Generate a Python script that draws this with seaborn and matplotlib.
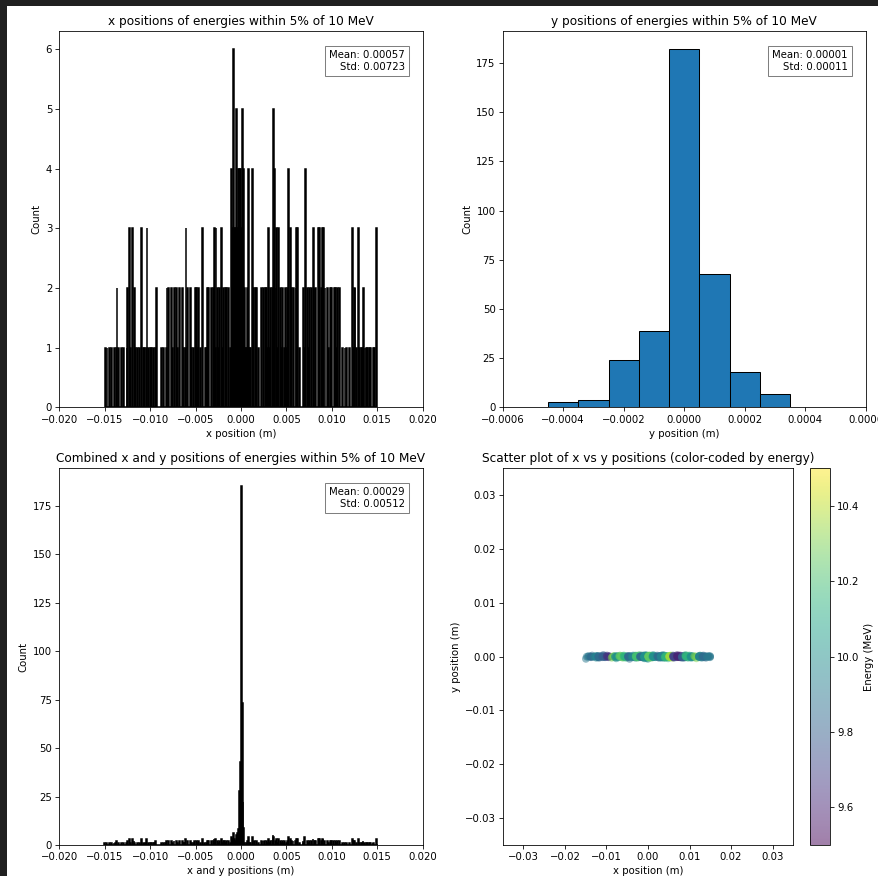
import numpy as np
import matplotlib
matplotlib.use('Agg')
import matplotlib.pyplot as plt
from matplotlib.patches import Rectangle
from matplotlib.colors import ListedColormap, Normalize
from matplotlib.cm import ScalarMappable
import seaborn as sns

# x positions: counts in 300 bins of 0.1 mm, from -0.015 m to +0.015 m
x_counts = [
    1,0,1,0,0,1,0,1,0,0,1,0,1,2,0,1,0,0,1,0,
    1,0,0,0,1,2,0,3,1,0,3,0,2,1,0,0,1,0,1,0,
    3,0,1,1,0,1,3,0,1,0,1,1,0,1,0,1,2,0,0,0,
    0,0,1,0,1,0,0,1,2,0,2,0,0,2,1,0,2,0,0,2,
    1,0,2,0,0,2,1,0,1,3,0,2,0,0,2,1,0,1,0,2,
    0,2,1,2,0,1,0,3,0,0,1,0,1,2,2,0,0,2,0,2,
    3,1,3,0,2,1,2,0,3,1,2,0,2,1,2,0,2,0,1,4,
    3,6,3,3,2,5,3,4,4,4,3,5,4,2,1,0,1,2,4,1,
    1,0,4,2,0,2,0,2,0,1,0,0,2,0,2,0,2,0,2,1,
    3,1,2,0,2,5,4,0,2,3,1,3,0,2,1,2,0,1,2,0,
    1,2,4,0,3,2,0,2,0,0,2,3,3,0,1,0,0,0,2,1,
    4,0,0,2,1,2,0,2,0,3,0,2,2,0,0,3,3,0,2,3,
    3,0,2,0,0,2,1,0,2,2,0,0,2,0,2,1,2,0,2,0,
    0,1,0,0,1,0,1,0,0,1,0,0,3,1,2,2,0,1,0,3,
    1,0,1,1,2,0,1,0,1,1,0,1,1,0,0,1,1,0,0,3,
]
x_lo, x_hi = -0.015, 0.015

# y positions: 0.1 mm bins
y_centers = [-0.0004, -0.0003, -0.0002, -0.0001, 0.0, 0.0001, 0.0002, 0.0003]
y_counts = [3, 4, 24, 39, 182, 68, 18, 7]

# energy (MeV) read along the scatter strip, one value per 1 mm of x
seg_energy = [9.90, 9.85, 9.95, 9.85, 9.80, 9.65, 10.30, 10.00, 10.25, 10.15,
              9.85, 9.95, 10.20, 9.85, 10.00, 10.25, 10.00, 9.85, 9.95, 10.15,
              10.35, 9.70, 9.60, 9.80, 10.15, 10.00, 10.30, 9.95, 9.85, 9.90]

stats_x = "Mean: 0.00057\nStd: 0.00723"
stats_y = "Mean: 0.00001\nStd: 0.00011"
stats_xy = "Mean: 0.00029\nStd: 0.00512"

nbins = len(x_counts)
bw = (x_hi - x_lo) / nbins
x_centers = x_lo + bw * (np.arange(nbins) + 0.5)
x_pts = np.repeat(x_centers, x_counts)
y_pts = np.repeat(y_centers, y_counts)
e_pts = np.repeat(np.repeat(seg_energy, nbins // len(seg_energy)), x_counts)

W, H, DPI = 878, 876, 73
fig = plt.figure(figsize=(W / DPI, H / DPI), dpi=DPI, facecolor='#202020')
fig.add_artist(Rectangle((7 / W, 0), 1 - 7 / W, 1 - 6 / H, transform=fig.transFigure,
                         facecolor='white', edgecolor='none', zorder=-5))

def box(l, t, r, b):
    return [l / W, 1 - b / H, (r - l) / W, (b - t) / H]

ax1 = fig.add_axes(box(59.3, 31.3, 422.7, 407.5))
ax2 = fig.add_axes(box(502.7, 31.3, 865.7, 407.5))
ax3 = fig.add_axes(box(59.3, 468.3, 422.7, 845))
ax4 = fig.add_axes(box(502.7, 468.3, 793.3, 845))
cax = fig.add_axes(box(810, 468.3, 830, 845))

def stat_box(ax, s):
    ax.text(0.95, 0.95, s, transform=ax.transAxes, ha='right', va='top',
            multialignment='right', fontsize=10,
            bbox=dict(facecolor='white', alpha=0.5))

# x hist
sns.histplot(x=x_centers, weights=x_counts, bins=nbins, binrange=(x_lo, x_hi),
             color='black', edgecolor='black', alpha=1, linewidth=1.5, ax=ax1)
ax1.set_xlim(-0.02, 0.02)
ax1.set_title('x positions of energies within 5% of 10 MeV')
ax1.set_xlabel('x position (m)')
ax1.set_ylabel('Count')
stat_box(ax1, stats_x)

# y hist
sns.histplot(x=y_centers, weights=y_counts, bins=len(y_counts),
             binrange=(-0.00045, 0.00035), color='#1f77b4', edgecolor='black',
             alpha=1, linewidth=1, ax=ax2)
ax2.set_xlim(-0.0006, 0.0006)
ax2.set_title('y positions of energies within 5% of 10 MeV')
ax2.set_xlabel('y position (m)')
ax2.set_ylabel('Count')
stat_box(ax2, stats_y)

# combined
both = np.concatenate([x_pts, y_pts])
sns.histplot(x=both, bins=nbins + 1, binrange=(x_lo - bw / 4, x_hi + 3 * bw / 4),
             color='black', edgecolor='black', alpha=1, linewidth=1.5, ax=ax3)
ax3.set_xlim(-0.02, 0.02)
ax3.set_title('Combined x and y positions of energies within 5% of 10 MeV')
ax3.set_xlabel('x and y positions (m)')
ax3.set_ylabel('Count')
stat_box(ax3, stats_xy)

# scatter: pair each x with a y taken in a spread-out order so y isn't sorted along x
n = min(len(x_pts), len(y_pts))
order = (np.arange(n) * 214) % n
sns.scatterplot(x=x_pts[:n], y=y_pts[:n][order], hue=e_pts[:n], palette='viridis',
                hue_norm=(9.5, 10.5), alpha=0.5, s=60, linewidth=0,
                legend=False, ax=ax4)
ax4.set_xlim(-0.035, 0.035)
ax4.set_ylim(-0.035, 0.035)
ax4.set_xticks([-0.03, -0.02, -0.01, 0.0, 0.01, 0.02, 0.03])
ax4.set_yticks([-0.03, -0.02, -0.01, 0.0, 0.01, 0.02, 0.03])
ax4.set_title('Scatter plot of x vs y positions (color-coded by energy)')
ax4.set_xlabel('x position (m)')
ax4.set_ylabel('y position (m)')

vir = plt.get_cmap('viridis')(np.linspace(0, 1, 256))
vir[:, 3] = 0.5
sm = ScalarMappable(norm=Normalize(9.5, 10.5), cmap=ListedColormap(vir))
cb = fig.colorbar(sm, cax=cax, ticks=[9.6, 9.8, 10.0, 10.2, 10.4])
cb.set_label('Energy (MeV)')

fig.savefig('out.png', dpi=DPI, facecolor=fig.get_facecolor())
